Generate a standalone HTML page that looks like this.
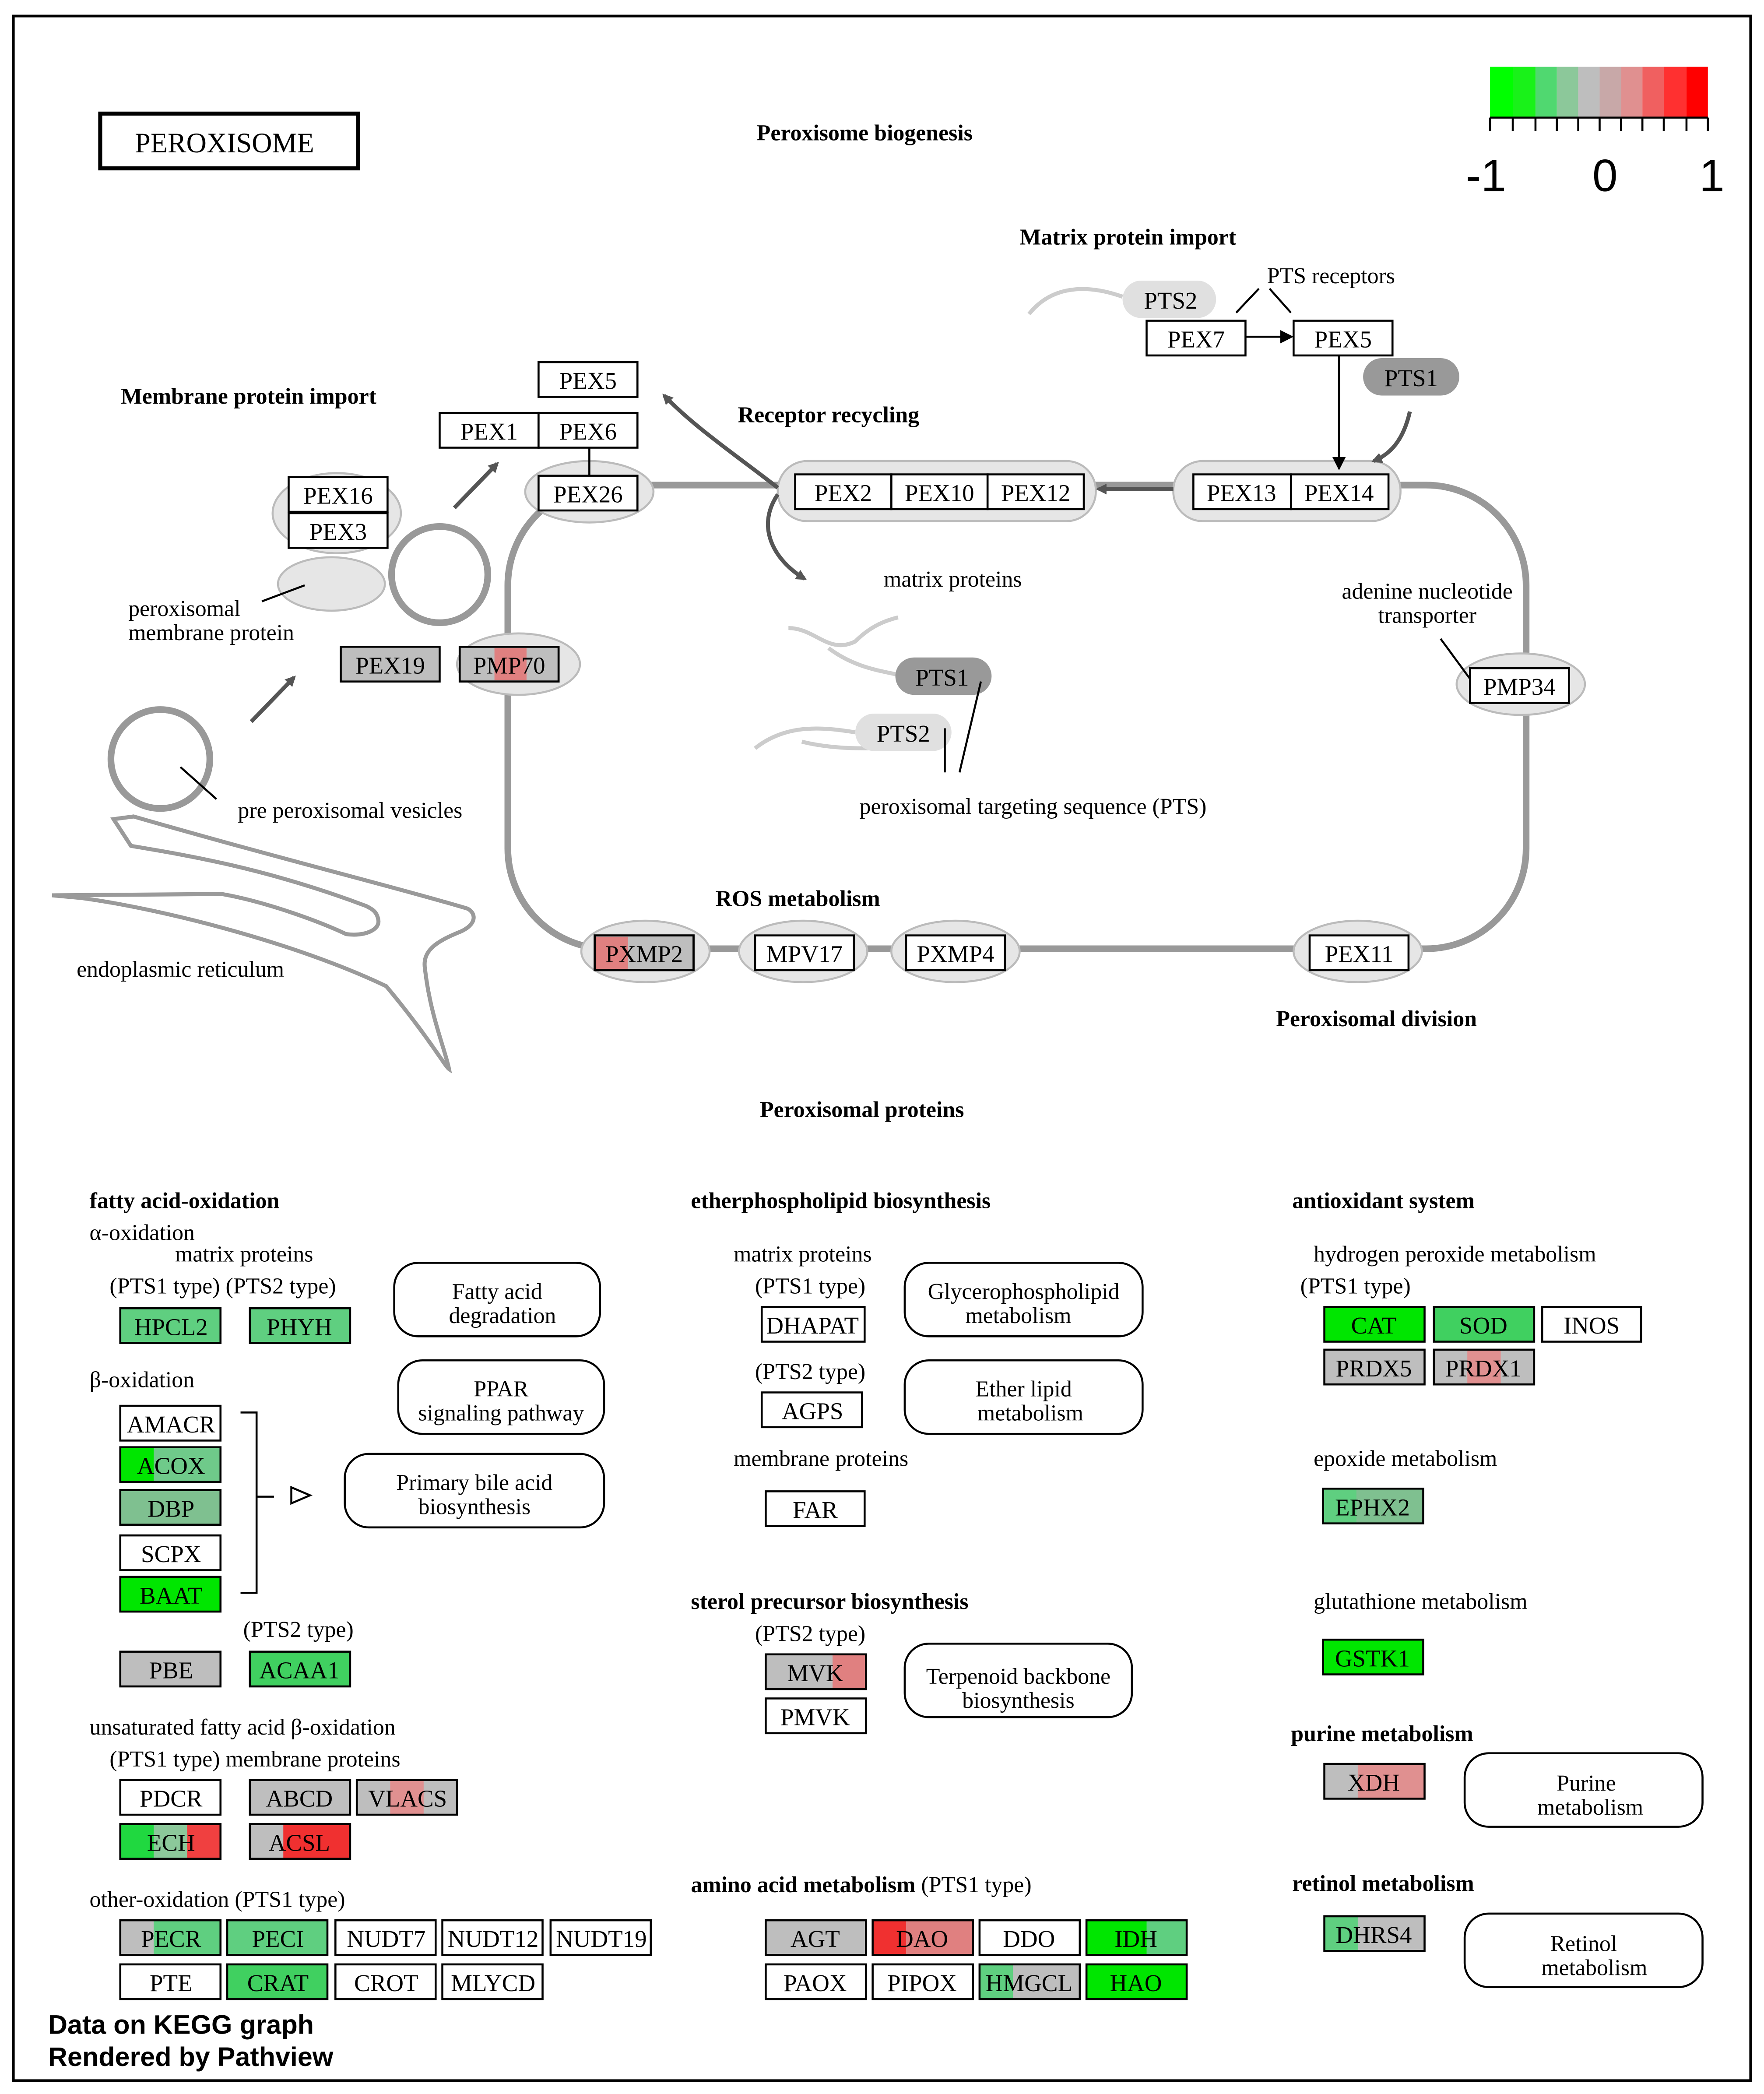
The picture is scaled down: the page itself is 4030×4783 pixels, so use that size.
<!DOCTYPE html>
<html><head><meta charset="utf-8"><style>
html,body{margin:0;padding:0;background:#fff}
svg{display:block}
text{font-family:"Liberation Serif",serif;fill:#000}
.b{font-weight:bold}
.g{font-size:18px;text-anchor:middle}
</style></head><body>
<svg width="4030" height="4783" viewBox="0 0 1320 1567" preserveAspectRatio="none" xmlns="http://www.w3.org/2000/svg">
<defs><marker id="ah" markerWidth="8" markerHeight="8" refX="6" refY="4" orient="auto" markerUnits="userSpaceOnUse"><path d="M0,0 L8,4 L0,8z" fill="#555"/></marker>
<marker id="ak" markerWidth="10" markerHeight="10" refX="8" refY="5" orient="auto" markerUnits="userSpaceOnUse"><path d="M0,0 L10,5 L0,10z" fill="#000"/></marker></defs>
<rect x="0" y="0" width="1320" height="1567" fill="#fff"/>
<rect x="10" y="12" width="1300" height="1545" fill="none" stroke="#000" stroke-width="2"/>
<rect x="75" y="85" width="193" height="41" fill="none" stroke="#000" stroke-width="3"/>
<text x="168" y="114" style="font-size:21px;text-anchor:middle">PEROXISOME</text>
<g font-size="17" text-anchor="middle" class="b">
<text class="b" x="647" y="105">Peroxisome biogenesis</text>
<text class="b" x="844" y="183">Matrix protein import</text>
<text class="b" x="186" y="302">Membrane protein import</text>
<text class="b" x="620" y="316">Receptor recycling</text>
<text class="b" x="597" y="678">ROS metabolism</text>
<text class="b" x="1030" y="768">Peroxisomal division</text>
<text class="b" x="645" y="836">Peroxisomal proteins</text>
</g>
<!-- legend -->
<g>
<rect x="1115" y="50" width="17" height="38" fill="#00ff00"/><rect x="1132" y="50" width="17" height="38" fill="#19f219"/><rect x="1149" y="50" width="16" height="38" fill="#50d870"/><rect x="1165" y="50" width="16" height="38" fill="#8cc89a"/><rect x="1181" y="50" width="16" height="38" fill="#bebebe"/><rect x="1197" y="50" width="16" height="38" fill="#c8a8a8"/><rect x="1213" y="50" width="16" height="38" fill="#e09090"/><rect x="1229" y="50" width="16" height="38" fill="#f06060"/><rect x="1245" y="50" width="17" height="38" fill="#ff3030"/><rect x="1262" y="50" width="16" height="38" fill="#ff0000"/>
<path d="M1115,88V98M1132,88V98M1149,88V98M1165,88V98M1181,88V98M1197,88V98M1213,88V98M1229,88V98M1245,88V98M1262,88V98M1278,88V98M1115,88H1278" stroke="#000" stroke-width="1.5"/>
<text x="1112" y="143" style="font-family:'Liberation Sans',sans-serif;font-size:34px;text-anchor:middle">-1</text>
<text x="1201" y="143" style="font-family:'Liberation Sans',sans-serif;font-size:34px;text-anchor:middle">0</text>
<text x="1281" y="143" style="font-family:'Liberation Sans',sans-serif;font-size:34px;text-anchor:middle">1</text>
</g>
<!-- membrane -->
<rect x="380" y="363" width="762" height="347" rx="75" fill="none" stroke="#999" stroke-width="5"/>
<!-- ER -->
<path d="M85,613 L100,611 C200,640 300,665 350,680 C357,684 356,692 345,697 C325,705 316,712 318,725 C322,760 333,785 336,800 C333,798 320,775 289,738 C220,705 120,680 61,672 L39,670 L166,669 C200,675 240,690 259,699 C272,701 285,696 283,688 C282,682 278,680 274,678 C200,650 140,640 98,633 Z" fill="none" stroke="#9a9a9a" stroke-width="3"/>
<circle cx="329" cy="430" r="36" fill="none" stroke="#999" stroke-width="5"/>
<circle cx="120" cy="568" r="37" fill="none" stroke="#999" stroke-width="5"/>
<!-- ellipses -->
<g fill="#e6e6e6" stroke="#bbb" stroke-width="1.5">
<ellipse cx="252" cy="384" rx="48" ry="30"/>
<ellipse cx="248" cy="437" rx="40" ry="20"/>
<ellipse cx="441" cy="368" rx="48" ry="23"/>
<rect x="582" y="345" width="238" height="45" rx="22"/>
<rect x="878" y="345" width="170" height="45" rx="22"/>
<ellipse cx="1138" cy="512" rx="48" ry="23"/>
<ellipse cx="1016" cy="712" rx="48" ry="23"/>
<ellipse cx="715" cy="712" rx="48" ry="23"/>
<ellipse cx="601" cy="712" rx="48" ry="23"/>
<ellipse cx="483" cy="712" rx="48" ry="23"/>
<ellipse cx="388" cy="497" rx="46" ry="23"/>
</g>
<!-- squiggles & pills -->
<path d="M770,235 C790,210 820,215 840,222" fill="none" stroke="#ccc" stroke-width="3"/>
<path d="M590,470 C610,470 620,490 640,480 C650,470 660,465 672,462 M620,485 C640,500 660,502 672,505" fill="none" stroke="#ccc" stroke-width="3"/>
<path d="M565,560 C590,540 620,545 640,548 M600,555 C620,560 640,560 650,560" fill="none" stroke="#ccc" stroke-width="3"/>
<rect x="840" y="210" width="70" height="28" rx="14" fill="#e0e0e0"/><text class="g" x="876" y="231">PTS2</text>
<rect x="1020" y="268" width="72" height="28" rx="14" fill="#999"/><text class="g" x="1056" y="289">PTS1</text>
<rect x="670" y="492" width="72" height="28" rx="14" fill="#999"/><text class="g" x="705" y="513">PTS1</text>
<rect x="640" y="534" width="72" height="28" rx="14" fill="#e0e0e0"/><text class="g" x="676" y="555">PTS2</text>
<!-- arrows -->
<g stroke="#555" stroke-width="3" fill="none">
<path d="M340,380 L372,347" marker-end="url(#ah)"/>
<path d="M188,540 L220,507" marker-end="url(#ah)"/>
<path d="M582,365 C550,340 520,320 497,296" marker-end="url(#ah)"/>
<path d="M582,370 C565,395 580,420 602,433" marker-end="url(#ah)"/>
<path d="M1055,308 C1050,330 1040,340 1028,345" marker-end="url(#ah)"/>
<path d="M878,366 L822,366" marker-end="url(#ah)"/>
</g>
<g stroke="#000" stroke-width="1.5" fill="none">
<path d="M932,252 L966,252" marker-end="url(#ak)"/>
<path d="M1002,266 L1002,350" marker-end="url(#ak)"/>
<path d="M925,234 L942,216 M950,216 L966,234"/>
<path d="M441,335 L441,356"/>
<path d="M228,438 L196,450"/>
<path d="M135,574 L162,598"/>
<path d="M1078,478 L1100,508"/>
<path d="M734,510 L718,578 M707,545 L707,578"/>
</g>
<!-- top boxes -->
<g fill="#fff" stroke="#000" stroke-width="1.5">
<rect x="858" y="240" width="74" height="26"/><rect x="968" y="240" width="74" height="26"/>
<rect x="403" y="271" width="74" height="26"/><rect x="329" y="309" width="74" height="26"/><rect x="403" y="309" width="74" height="26"/>
<rect x="403" y="356" width="74" height="26"/>
<rect x="595" y="355" width="72" height="26"/><rect x="667" y="355" width="72" height="26"/><rect x="739" y="355" width="72" height="26"/>
<rect x="893" y="355" width="73" height="26"/><rect x="966" y="355" width="73" height="26"/>
<rect x="216" y="357" width="74" height="26"/><rect x="216" y="384" width="74" height="26"/>
<rect x="1100" y="500" width="74" height="26"/><rect x="980" y="700" width="74" height="26"/>
<rect x="678" y="700" width="74" height="26"/><rect x="565" y="700" width="74" height="26"/>
<rect x="445" y="700" width="74" height="26" fill="#bebebe"/>
<rect x="255" y="484" width="74" height="26" fill="#bebebe"/>
<rect x="344" y="484" width="74" height="26" fill="#bebebe"/>
</g>
<rect x="446" y="701" width="24" height="24" fill="#e08080"/>
<rect x="370" y="485" width="24" height="24" fill="#e08080"/>
<g fill="none" stroke="#000" stroke-width="1.5"><rect x="445" y="700" width="74" height="26"/><rect x="344" y="484" width="74" height="26"/></g>
<g class="g">
<text class="g" x="895" y="260">PEX7</text><text class="g" x="1005" y="260">PEX5</text>
<text class="g" x="440" y="291">PEX5</text><text class="g" x="366" y="329">PEX1</text><text class="g" x="440" y="329">PEX6</text>
<text class="g" x="440" y="376">PEX26</text>
<text class="g" x="631" y="375">PEX2</text><text class="g" x="703" y="375">PEX10</text><text class="g" x="775" y="375">PEX12</text>
<text class="g" x="929" y="375">PEX13</text><text class="g" x="1002" y="375">PEX14</text>
<text class="g" x="253" y="377">PEX16</text><text class="g" x="253" y="404">PEX3</text>
<text class="g" x="1137" y="520">PMP34</text><text class="g" x="1017" y="720">PEX11</text>
<text class="g" x="715" y="720">PXMP4</text><text class="g" x="602" y="720">MPV17</text><text class="g" x="482" y="720">PXMP2</text>
<text class="g" x="292" y="504">PEX19</text><text class="g" x="381" y="504">PMP70</text>
</g>
<g style="font-size:17px">
<text x="996" y="212" text-anchor="middle">PTS receptors</text>
<text x="713" y="439" text-anchor="middle">matrix proteins</text>
<text x="96" y="461">peroxisomal</text><text x="96" y="479">membrane protein</text>
<text x="1068" y="448" text-anchor="middle">adenine nucleotide</text><text x="1068" y="466" text-anchor="middle">transporter</text>
<text x="773" y="609" text-anchor="middle">peroxisomal targeting sequence (PTS)</text>
<text x="262" y="612" text-anchor="middle">pre peroxisomal vesicles</text>
<text x="135" y="731" text-anchor="middle">endoplasmic reticulum</text>
</g>
<!-- bottom section labels -->
<g style="font-size:17px">
<text class="b" x="67" y="904">fatty acid-oxidation</text>
<text x="67" y="928">α-oxidation</text>
<text x="131" y="944">matrix proteins</text>
<text x="82" y="968">(PTS1 type) (PTS2 type)</text>
<text x="67" y="1038">β-oxidation</text>
<text x="182" y="1225">(PTS2 type)</text>
<text x="67" y="1298">unsaturated fatty acid β-oxidation</text>
<text x="82" y="1322">(PTS1 type)   membrane proteins</text>
<text x="67" y="1427">other-oxidation (PTS1 type)</text>
<text class="b" x="517" y="904">etherphospholipid biosynthesis</text>
<text x="549" y="944">matrix proteins</text>
<text x="565" y="968">(PTS1 type)</text>
<text x="565" y="1032">(PTS2 type)</text>
<text x="549" y="1097">membrane proteins</text>
<text class="b" x="517" y="1204">sterol precursor biosynthesis</text>
<text x="565" y="1228">(PTS2 type)</text>
<text x="517" y="1416"><tspan font-weight="bold">amino acid metabolism</tspan>  (PTS1 type)</text>
<text class="b" x="967" y="904">antioxidant system</text>
<text x="983" y="944">hydrogen peroxide metabolism</text>
<text x="973" y="968">(PTS1 type)</text>
<text x="983" y="1097">epoxide metabolism</text>
<text x="983" y="1204">glutathione metabolism</text>
<text class="b" x="966" y="1303">purine metabolism</text>
<text class="b" x="967" y="1415">retinol metabolism</text>
</g>
<!-- pathway boxes -->
<g fill="#fff" stroke="#000" stroke-width="1.5">
<rect x="295" y="945" width="154" height="55" rx="18"/>
<rect x="298" y="1018" width="154" height="55" rx="18"/>
<rect x="258" y="1088" width="194" height="55" rx="18"/>
<rect x="677" y="945" width="178" height="55" rx="18"/>
<rect x="677" y="1018" width="178" height="55" rx="18"/>
<rect x="677" y="1230" width="170" height="55" rx="18"/>
<rect x="1096" y="1312" width="178" height="55" rx="18"/>
<rect x="1096" y="1432" width="178" height="55" rx="18"/>
</g>
<g style="font-size:17px" text-anchor="middle">
<text x="372" y="972">Fatty acid</text><text x="376" y="990">degradation</text>
<text x="375" y="1045">PPAR</text><text x="375" y="1063">signaling pathway</text>
<text x="355" y="1115">Primary bile acid</text><text x="355" y="1133">biosynthesis</text>
<text x="766" y="972">Glycerophospholipid</text><text x="762" y="990">metabolism</text>
<text x="766" y="1045">Ether lipid</text><text x="771" y="1063">metabolism</text>
<text x="762" y="1260">Terpenoid backbone</text><text x="762" y="1278">biosynthesis</text>
<text x="1187" y="1340">Purine</text><text x="1190" y="1358">metabolism</text>
<text x="1185" y="1460">Retinol</text><text x="1193" y="1478">metabolism</text>
</g>
<path d="M180,1057 H192 V1192 H180 M192,1120 H205" stroke="#000" stroke-width="1.5" fill="none"/>
<path d="M218,1113 L232,1119 L218,1125z" fill="#fff" stroke="#000" stroke-width="1.5"/>
<!-- gene boxes: fills -->
<g>
<rect x="90" y="979" width="75" height="26" fill="#5fcf80"/>
<rect x="187" y="979" width="75" height="26" fill="#5fcf80"/>
<rect x="90" y="1052" width="75" height="26" fill="#fff"/>
<rect x="90" y="1083" width="75" height="26" fill="#6fca8a"/><rect x="90" y="1083" width="25" height="26" fill="#00e600"/>
<rect x="90" y="1115" width="75" height="26" fill="#7fc090"/>
<rect x="90" y="1149" width="75" height="26" fill="#fff"/>
<rect x="90" y="1180" width="75" height="26" fill="#00e600"/>
<rect x="90" y="1236" width="75" height="26" fill="#bebebe"/>
<rect x="187" y="1236" width="75" height="26" fill="#40d060"/>
<rect x="90" y="1332" width="75" height="26" fill="#fff"/>
<rect x="187" y="1332" width="75" height="26" fill="#bebebe"/>
<rect x="267" y="1332" width="75" height="26" fill="#bebebe"/><rect x="292" y="1332" width="25" height="26" fill="#e09090"/>
<rect x="90" y="1365" width="75" height="26" fill="#20d840"/><rect x="140" y="1365" width="25" height="26" fill="#f04040"/><rect x="115" y="1365" width="25" height="26" fill="#8cc89a"/>
<rect x="187" y="1365" width="75" height="26" fill="#f03030"/><rect x="187" y="1365" width="25" height="26" fill="#bebebe"/>
<rect x="90" y="1437" width="75" height="26" fill="#bebebe"/><rect x="115" y="1437" width="50" height="26" fill="#5fcf80"/>
<rect x="170" y="1437" width="75" height="26" fill="#5fcf80"/>
<rect x="90" y="1470" width="75" height="26" fill="#fff"/>
<rect x="170" y="1470" width="75" height="26" fill="#40d060"/>
<rect x="573" y="1238" width="75" height="26" fill="#bebebe"/><rect x="623" y="1238" width="25" height="26" fill="#e08080"/>
<rect x="573" y="1437" width="75" height="26" fill="#bebebe"/>
<rect x="653" y="1437" width="75" height="26" fill="#e08080"/><rect x="653" y="1437" width="25" height="26" fill="#f03030"/>
<rect x="813" y="1437" width="75" height="26" fill="#5fcf80"/><rect x="813" y="1437" width="45" height="26" fill="#00e600"/>
<rect x="733" y="1470" width="75" height="26" fill="#bebebe"/><rect x="733" y="1470" width="25" height="26" fill="#5fcf80"/>
<rect x="813" y="1470" width="75" height="26" fill="#00e600"/>
<rect x="991" y="978" width="75" height="26" fill="#00e600"/>
<rect x="1073" y="978" width="75" height="26" fill="#40d060"/>
<rect x="991" y="1010" width="75" height="26" fill="#bebebe"/>
<rect x="1073" y="1010" width="75" height="26" fill="#bebebe"/><rect x="1098" y="1010" width="25" height="26" fill="#e09090"/>
<rect x="990" y="1114" width="75" height="26" fill="#7fc090"/><rect x="990" y="1114" width="25" height="26" fill="#5fcf80"/>
<rect x="990" y="1227" width="75" height="26" fill="#00e600"/>
<rect x="991" y="1320" width="75" height="26" fill="#e09090"/><rect x="991" y="1320" width="25" height="26" fill="#bebebe"/>
<rect x="991" y="1434" width="75" height="26" fill="#bebebe"/><rect x="991" y="1434" width="25" height="26" fill="#5fcf80"/>
</g>
<g fill="none" stroke="#000" stroke-width="1.5">
<rect x="90" y="979" width="75" height="26"/><rect x="187" y="979" width="75" height="26"/>
<rect x="90" y="1052" width="75" height="26"/><rect x="90" y="1083" width="75" height="26"/><rect x="90" y="1115" width="75" height="26"/><rect x="90" y="1149" width="75" height="26"/><rect x="90" y="1180" width="75" height="26"/>
<rect x="90" y="1236" width="75" height="26"/><rect x="187" y="1236" width="75" height="26"/>
<rect x="90" y="1332" width="75" height="26"/><rect x="187" y="1332" width="75" height="26"/><rect x="267" y="1332" width="75" height="26"/>
<rect x="90" y="1365" width="75" height="26"/><rect x="187" y="1365" width="75" height="26"/>
<rect x="90" y="1437" width="75" height="26"/><rect x="170" y="1437" width="75" height="26"/><rect x="251" y="1437" width="75" height="26"/><rect x="331" y="1437" width="75" height="26"/><rect x="412" y="1437" width="75" height="26"/>
<rect x="90" y="1470" width="75" height="26"/><rect x="170" y="1470" width="75" height="26"/><rect x="251" y="1470" width="75" height="26"/><rect x="331" y="1470" width="75" height="26"/>
<rect x="570" y="978" width="77" height="26"/><rect x="570" y="1042" width="75" height="26"/><rect x="573" y="1116" width="74" height="26"/>
<rect x="573" y="1238" width="75" height="26"/><rect x="573" y="1271" width="75" height="26"/>
<rect x="573" y="1437" width="75" height="26"/><rect x="653" y="1437" width="75" height="26"/><rect x="733" y="1437" width="75" height="26"/><rect x="813" y="1437" width="75" height="26"/>
<rect x="573" y="1470" width="75" height="26"/><rect x="653" y="1470" width="75" height="26"/><rect x="733" y="1470" width="75" height="26"/><rect x="813" y="1470" width="75" height="26"/>
<rect x="991" y="978" width="75" height="26"/><rect x="1073" y="978" width="75" height="26"/><rect x="1154" y="978" width="74" height="26"/>
<rect x="991" y="1010" width="75" height="26"/><rect x="1073" y="1010" width="75" height="26"/>
<rect x="990" y="1114" width="75" height="26"/><rect x="990" y="1227" width="75" height="26"/>
<rect x="991" y="1320" width="75" height="26"/><rect x="991" y="1434" width="75" height="26"/>
</g>
<g>
<text class="g" x="128" y="999">HPCL2</text><text class="g" x="224" y="999">PHYH</text>
<text class="g" x="128" y="1072">AMACR</text><text class="g" x="128" y="1103">ACOX</text><text class="g" x="128" y="1135">DBP</text><text class="g" x="128" y="1169">SCPX</text><text class="g" x="128" y="1200">BAAT</text>
<text class="g" x="128" y="1256">PBE</text><text class="g" x="224" y="1256">ACAA1</text>
<text class="g" x="128" y="1352">PDCR</text><text class="g" x="224" y="1352">ABCD</text><text class="g" x="305" y="1352">VLACS</text>
<text class="g" x="128" y="1385">ECH</text><text class="g" x="224" y="1385">ACSL</text>
<text class="g" x="128" y="1457">PECR</text><text class="g" x="208" y="1457">PECI</text><text class="g" x="289" y="1457">NUDT7</text><text class="g" x="369" y="1457">NUDT12</text><text class="g" x="450" y="1457">NUDT19</text>
<text class="g" x="128" y="1490">PTE</text><text class="g" x="208" y="1490">CRAT</text><text class="g" x="289" y="1490">CROT</text><text class="g" x="369" y="1490">MLYCD</text>
<text class="g" x="608" y="998">DHAPAT</text><text class="g" x="608" y="1062">AGPS</text><text class="g" x="610" y="1136">FAR</text>
<text class="g" x="610" y="1258">MVK</text><text class="g" x="610" y="1291">PMVK</text>
<text class="g" x="610" y="1457">AGT</text><text class="g" x="690" y="1457">DAO</text><text class="g" x="770" y="1457">DDO</text><text class="g" x="850" y="1457">IDH</text>
<text class="g" x="610" y="1490">PAOX</text><text class="g" x="690" y="1490">PIPOX</text><text class="g" x="770" y="1490">HMGCL</text><text class="g" x="850" y="1490">HAO</text>
<text class="g" x="1028" y="998">CAT</text><text class="g" x="1110" y="998">SOD</text><text class="g" x="1191" y="998">INOS</text>
<text class="g" x="1028" y="1030">PRDX5</text><text class="g" x="1110" y="1030">PRDX1</text>
<text class="g" x="1027" y="1134">EPHX2</text><text class="g" x="1027" y="1247">GSTK1</text>
<text class="g" x="1028" y="1340">XDH</text><text class="g" x="1028" y="1454">DHRS4</text>
</g>
<text x="36" y="1522" style="font-family:'Liberation Sans',sans-serif;font-weight:bold;font-size:20px">Data on KEGG graph</text>
<text x="36" y="1546" style="font-family:'Liberation Sans',sans-serif;font-weight:bold;font-size:20px">Rendered by Pathview</text>
</svg>
</body></html>
